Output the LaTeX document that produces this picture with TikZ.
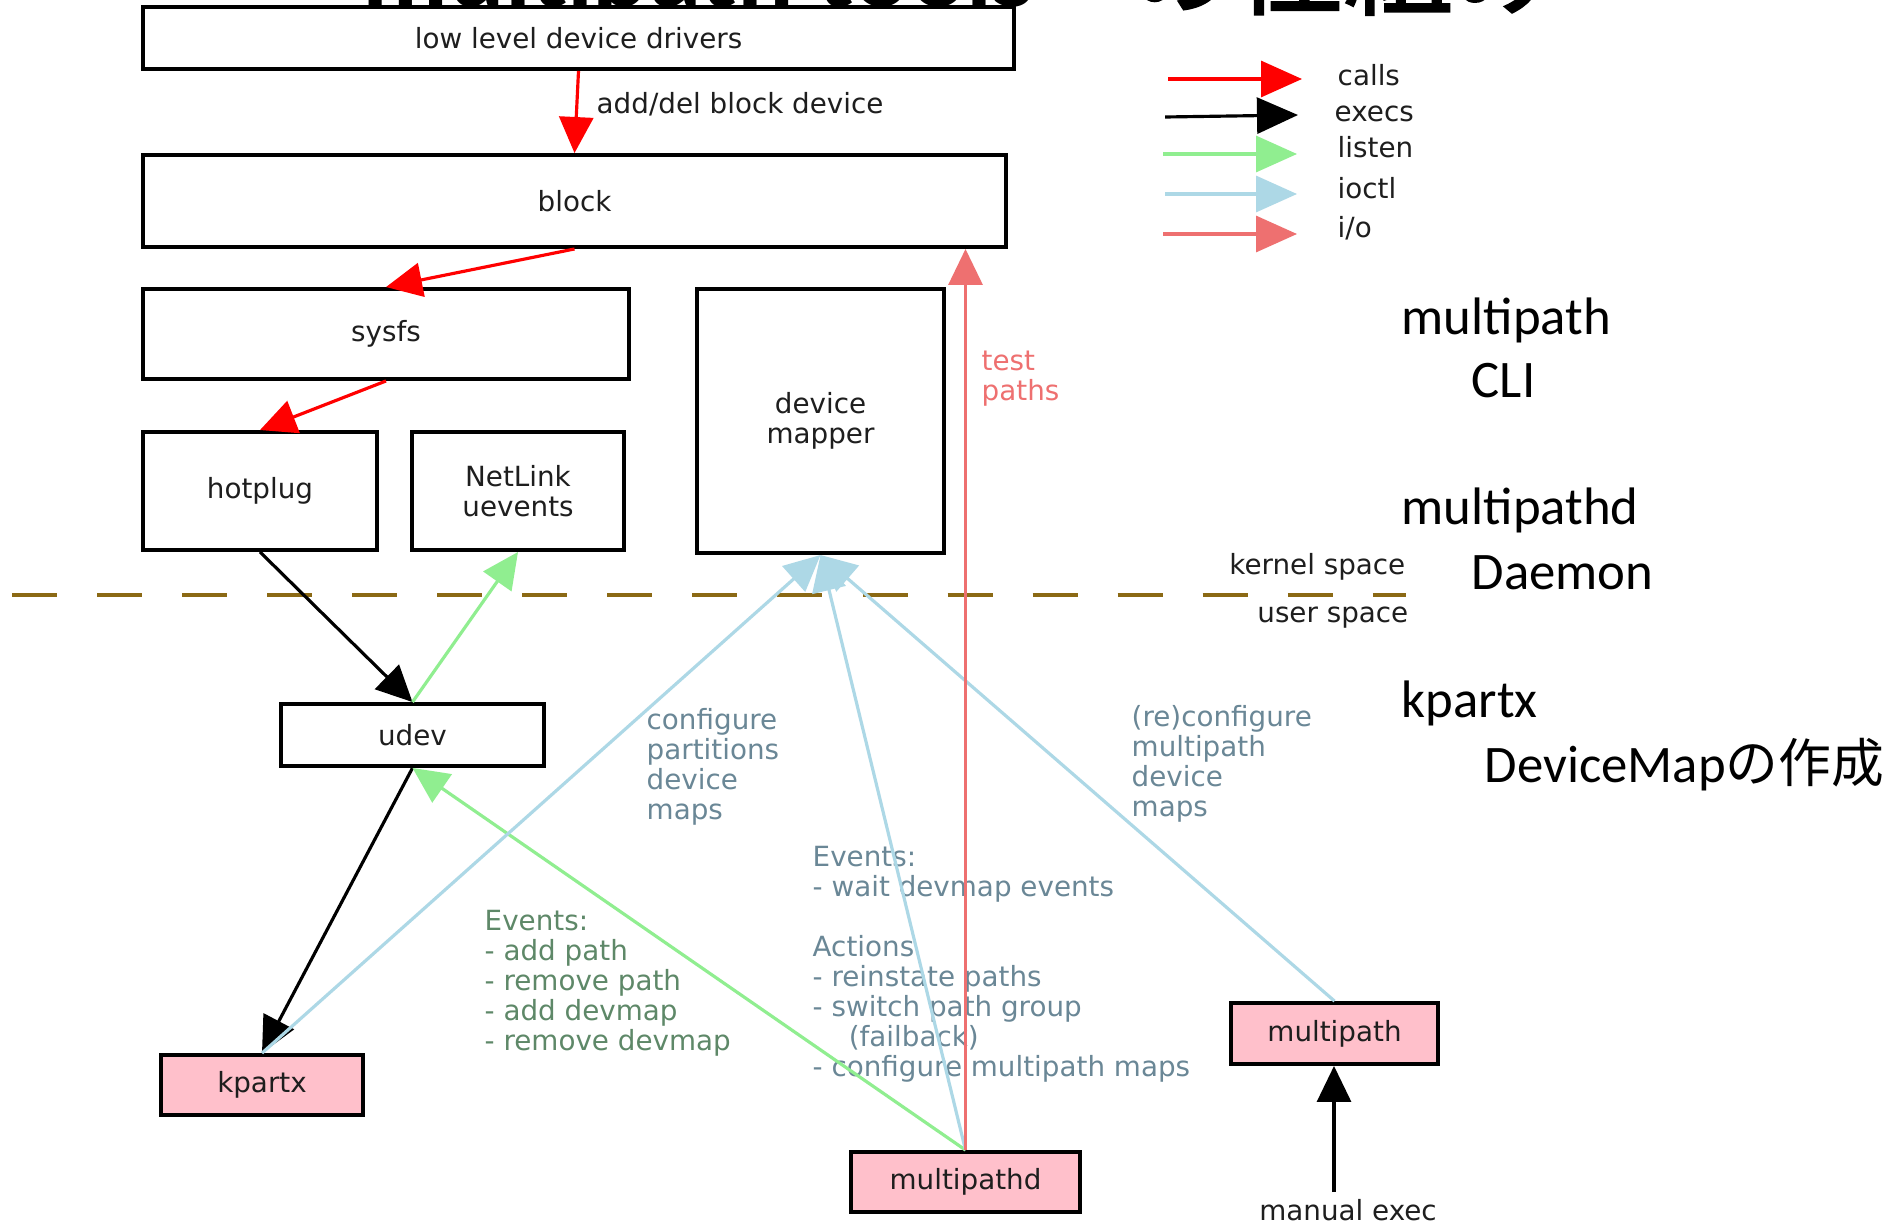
\documentclass[tikz,border=0pt]{standalone}
\usepackage{fontspec}
\setmainfont{DejaVu Sans}
\newfontfamily\calib{Carlito}
\newfontfamily\cjk{Noto Sans CJK JP}
\newfontfamily\cjkbold[FakeBold=2]{Noto Sans CJK JP}
\usetikzlibrary{arrows.meta}

\definecolor{callred}{HTML}{FF0000}
\definecolor{listengreen}{HTML}{90EE90}
\definecolor{ioctlblue}{HTML}{ADD8E6}
\definecolor{iocoral}{HTML}{EE7070}
\definecolor{toolpink}{HTML}{FFC0CB}
\definecolor{spaceline}{HTML}{8B6914}
\definecolor{nodetext}{HTML}{1E1E1E}
\definecolor{ioctltext}{HTML}{6A8796}
\definecolor{eventtext}{HTML}{5E8868}

\newcommand\dgfont{\fontsize{7.9pt}{8.54pt}\selectfont}
\newcommand\sidefont{\fontsize{15pt}{18pt}\selectfont}

\tikzset{
  box/.style={draw=black, line width=1.1pt, fill=white, inner sep=0pt,
    text=nodetext, font=\dgfont, align=center},
  tool/.style={box, fill=toolpink},
  lbl/.style={inner sep=0pt, font=\dgfont, align=left, anchor=west},
  keytext/.style={inner sep=0pt, font=\dgfont, text=nodetext, anchor=base west},
  side/.style={inner sep=0pt, font=\calib\sidefont, anchor=base west},
  mainhead/.style={-{Triangle[length=0.36cm,width=0.34cm]}},
  keyhead/.style={-{Triangle[length=0.41cm,width=0.36cm]}},
  arrcalls/.style={draw=callred, line width=0.9pt},
  arrexecs/.style={draw=black, line width=0.9pt},
  arrlisten/.style={draw=listengreen, line width=0.9pt},
  arrioctl/.style={draw=ioctlblue, line width=0.9pt},
  arrio/.style={draw=iocoral, line width=0.9pt},
}

\begin{document}
\begin{tikzpicture}[x=0.01cm, y=-0.01cm]
\useasboundingbox (0,0) rectangle (1901,1224);
\begin{scope}
\clip (0,0) rectangle (1901,1224);
\fill[white] (0,0) rectangle (1901,1224);

% heading, mostly above the top edge
\node[inner sep=0pt, anchor=base west, font=\calib\bfseries\fontsize{30pt}{32pt}\selectfont]
  (title) at (362,6) {multipath tools};
\node[inner sep=0pt, anchor=base west, font=\cjkbold\fontsize{31pt}{33pt}\selectfont]
  (titlej) at (1125,6) {の仕組み};

% kernel / user space separator
\coordinate (sepL) at (12,595);
\coordinate (sepR) at (1406,595);
\draw[spaceline, line width=0.045cm, dash pattern=on 0.45cm off 0.40cm] (sepL) -- (sepR);
\node[inner sep=0pt, font=\dgfont, text=nodetext, anchor=east] (kspace) at (1406,567) {kernel space};
\node[inner sep=0pt, font=\dgfont, text=nodetext, anchor=east] (uspace) at (1409,618) {user space};

% kernel side components
\node[box, minimum width=8.71cm, minimum height=0.62cm] (lldd) at (578.5,38) {low level device drivers};
\node[box, minimum width=8.63cm, minimum height=0.92cm] (block) at (574.5,201) {block};
\node[box, minimum width=4.86cm, minimum height=0.90cm] (sysfs) at (386,334) {sysfs};
\node[box, minimum width=2.34cm, minimum height=1.18cm] (hotplug) at (260,491) {hotplug};
\node[box, minimum width=2.12cm, minimum height=1.18cm] (netlink) at (518,491) {NetLink\\uevents};
\node[box, minimum width=2.47cm, minimum height=2.64cm] (dm) at (820.5,421) {device\\mapper};

% user side components
\node[box, minimum width=2.63cm, minimum height=0.62cm] (udev) at (412.5,735) {udev};
\node[tool, minimum width=2.02cm, minimum height=0.60cm] (kpartx) at (262,1085) {kpartx};
\node[tool, minimum width=2.29cm, minimum height=0.60cm] (mpd) at (965.5,1182) {multipathd};
\node[tool, minimum width=2.07cm, minimum height=0.61cm] (mp) at (1334.5,1033.5) {multipath};
\node[inner sep=0pt, font=\dgfont, text=nodetext] (mexec) at (1348,1210) {manual exec};
\coordinate (mexecTop) at (1334,1192);

% edge labels
\node[lbl, text=nodetext] (addlbl) at (596,104) {add/del block device};
\node[lbl, text=iocoral] (testlbl) at (981,379) {test\\paths};
\node[lbl, text=ioctltext] (kpxlbl) at (646,767) {configure\\partitions\\device\\maps};
\node[lbl, text=ioctltext] (mplbl) at (1131,764) {(re)configure\\multipath\\device\\maps};
\node[lbl, text=eventtext] (udevlbl) at (484,983) {Events:\\- add path\\- remove path\\- add devmap\\- remove devmap};
\node[lbl, text=ioctltext] (mpdlbl) at (812,964)
  {Events:\\- wait devmap events\\[0.30cm]Actions\\- reinstate paths\\- switch path group\\\hspace*{1.3em}(failback)\\- configure multipath maps};

% connectors
\draw[arrcalls, mainhead] (lldd.south) -- (block.north);
\draw[arrcalls, mainhead] (block.south) -- (sysfs.north);
\draw[arrcalls, mainhead] (sysfs.south) -- (hotplug.north);
\draw[arrexecs, mainhead] (hotplug.south) -- (udev.north);
\draw[arrlisten, mainhead] (udev.north) -- (netlink.south);
\draw[arrexecs, mainhead] (udev.south) -- (kpartx.north);
\draw[arrlisten, mainhead] (mpd.north) -- (udev.south);
\draw[arrioctl, mainhead] (kpartx.north) -- (dm.south);
\draw[arrioctl, mainhead] (mpd.north) -- (dm.south);
\draw[arrioctl, mainhead] (mp.north) -- (dm.south);
\draw[arrio, mainhead] (mpd.north) -- (mpd.north |- block.south);
\draw[arrexecs, mainhead] (mexecTop) -- (mexecTop |- mp.south);

% key
\coordinate (kc1) at (1168,79);  \coordinate (kc2) at (1302,79);
\coordinate (ke1) at (1165,117); \coordinate (ke2) at (1298,115);
\coordinate (kl1) at (1163,154); \coordinate (kl2) at (1297,154);
\coordinate (ki1) at (1165,194); \coordinate (ki2) at (1297,194);
\coordinate (ko1) at (1163,234); \coordinate (ko2) at (1297,234);
\draw[arrcalls, keyhead] (kc1) -- (kc2);
\draw[arrexecs, keyhead] (ke1) -- (ke2);
\draw[arrlisten, keyhead] (kl1) -- (kl2);
\draw[arrioctl, keyhead] (ki1) -- (ki2);
\draw[arrio, keyhead] (ko1) -- (ko2);
\node[keytext] (kcalls) at (1337,85) {calls};
\node[keytext] (kexecs) at (1334,121) {execs};
\node[keytext] (klisten) at (1337,157) {listen};
\node[keytext] (kioctl) at (1337,198) {ioctl};
\node[keytext] (kio) at (1337,237) {i/o};

% notes on the right
\node[side] (n1) at (1401,334) {multipath};
\node[side] (n2) at (1471,397) {CLI};
\node[side] (n3) at (1401,524) {multipathd};
\node[side] (n4) at (1471,589) {Daemon};
\node[side] (n5) at (1401,717) {kpartx};
\node[side] (n6) at (1484,782) {DeviceMap{\cjk の作成}};
\end{scope}
\end{tikzpicture}
\end{document}
